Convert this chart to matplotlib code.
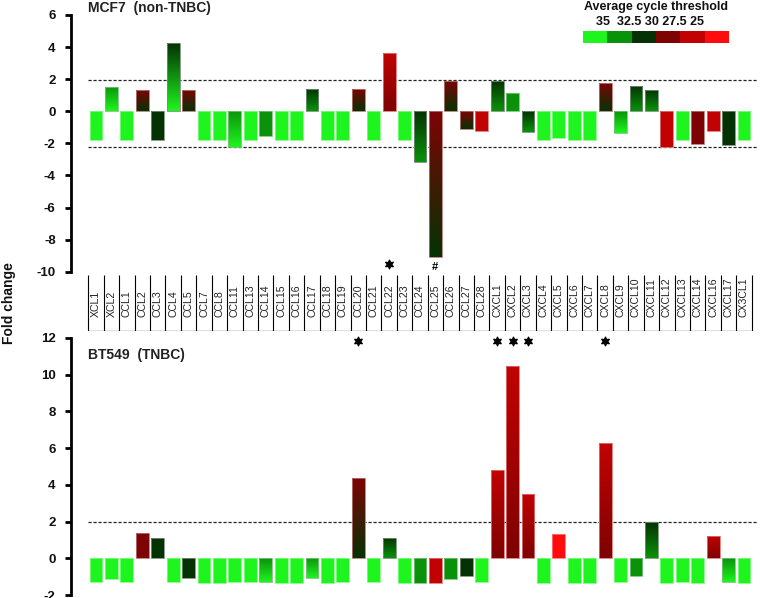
import numpy as np
import matplotlib
matplotlib.use("Agg")
import matplotlib.pyplot as plt
from matplotlib.colors import LinearSegmentedColormap, to_rgb

plt.rcParams["font.family"] = ["Liberation Sans", "DejaVu Sans"]

# ---------------- data ----------------
categories = ["XCL1", "XCL2", "CCL1", "CCL2", "CCL3", "CCL4", "CCL5", "CCL7", "CCL8",
              "CCL11", "CCL13", "CCL14", "CCL15", "CCL16", "CCL17", "CCL18", "CCL19",
              "CCL20", "CCL21", "CCL22", "CCL23", "CCL24", "CCL25", "CCL26", "CCL27",
              "CCL28", "CXCL1", "CXCL2", "CXCL3", "CXCL4", "CXCL5", "CXCL6", "CXCL7",
              "CXCL8", "CXCL9", "CXCL10", "CXCL11", "CXCL12", "CXCL13", "CXCL14",
              "CXCL16", "CXCL17", "CX3CL1"]

mcf7_fold = [-1.79, 1.52, -1.79, 1.31, -1.79, 4.23, 1.35, -1.79, -1.79,
             -2.25, -1.79, -1.52, -1.79, -1.79, 1.40, -1.79, -1.79,
             1.40, -1.79, 3.65, -1.79, -3.19, -9.10, 1.90, -1.08,
             -1.25, 1.90, 1.16, -1.30, -1.79, -1.66, -1.79, -1.79,
             1.77, -1.37, 1.60, 1.31, -2.23, -1.79, -2.04,
             -1.23, -2.13, -1.79]
# average Ct shown at the upper and lower end of each bar's colour gradient
mcf7_ct_upper = [35, 32.5, 35, 27.5, 30, 30, 27.5, 35, 35,
                 32.5, 35, 32.5, 35, 35, 30, 35, 35,
                 27.5, 35, 25, 35, 30, 27.5, 27.5, 27.5,
                 25, 30, 32.5, 30, 35, 35, 35, 35,
                 27.5, 32.5, 30, 30, 25, 35, 27.5,
                 25, 30, 35]
mcf7_ct_lower = [35, 35, 35, 30, 30, 35, 30, 35, 35,
                 35, 35, 32.5, 35, 35, 32.5, 35, 35,
                 30, 35, 27.5, 35, 32.5, 30, 30, 30,
                 25, 32.5, 32.5, 32.5, 35, 35, 35, 35,
                 30, 35, 32.5, 32.5, 25, 35, 27.5,
                 25, 30, 35]

bt549_fold = [-1.29, -1.11, -1.29, 1.38, 1.11, -1.29, -1.05, -1.35, -1.35,
              -1.29, -1.29, -1.29, -1.35, -1.35, -1.09, -1.35, -1.29,
              4.38, -1.29, 1.11, -1.35, -1.35, -1.35, -1.11, -0.98,
              -1.29, 4.82, 10.50, 3.49, -1.35, 1.33, -1.35, -1.35,
              6.29, -1.29, -0.98, 1.95, -1.35, -1.29, -1.35,
              1.24, -1.29, -1.35]
bt549_ct_upper = [35, 35, 35, 27.5, 30, 35, 30, 35, 35,
                  35, 35, 32.5, 35, 35, 32.5, 35, 35,
                  27.5, 35, 30, 35, 32.5, 25, 32.5, 30,
                  35, 25, 25, 25, 35, 22.5, 35, 35,
                  25, 35, 32.5, 30, 35, 35, 35,
                  25, 32.5, 35]
bt549_ct_lower = [35, 35, 35, 27.5, 30, 35, 30, 35, 35,
                  35, 35, 35, 35, 35, 35, 35, 35,
                  30, 35, 32.5, 35, 32.5, 25, 32.5, 30,
                  35, 27.5, 27.5, 27.5, 35, 22.5, 35, 35,
                  27.5, 35, 32.5, 32.5, 35, 35, 35,
                  27.5, 35, 35]

mcf7_star = ["CCL22"]
mcf7_hash = ["CCL25"]
bt549_star = ["CCL20", "CXCL1", "CXCL2", "CXCL3", "CXCL8"]

mcf7_thresholds = [1.95, -2.2]
bt549_thresholds = [1.95]

legend_ct = [35, 32.5, 30, 27.5, 25, 22.5]
legend_labels = "35  32.5 30 27.5 25"

# ---------------- styles ----------------
ct_colors = {35: "#1ef51e", 32.5: "#0a920a", 30: "#043204",
             27.5: "#7e0303", 25: "#c20202", 22.5: "#ff0c0c"}

W, H = 760, 598
fig = plt.figure(figsize=(W / 100, H / 100), dpi=100)

def fx(px):
    return px / W

def fy(py):
    return 1 - py / H

ax_left_px, ax_right_px = 71, 757
x_left = -0.5 - (88.3 - ax_left_px) / 15.428
x_right = 42.5 + (ax_right_px - 751.7) / 15.428
xlim = (x_left, x_right)

def lighten(c, f=0.45):
    r, g, b = to_rgb(c)
    return (r + (1 - r) * f, g + (1 - g) * f, b + (1 - b) * f)

def style_axis(ax, ylim, yticks):
    ax.set_xlim(*xlim)
    ax.set_ylim(*ylim)
    for s in ["top", "right", "bottom"]:
        ax.spines[s].set_visible(False)
    ax.spines["left"].set_linewidth(2.0)
    ax.spines["left"].set_bounds(ylim[0], ylim[1])
    ax.set_xticks([])
    ax.set_yticks(yticks)
    ax.set_yticklabels([str(t) for t in yticks], fontweight="bold", fontsize=9.5,
                       color="#111111")
    ax.tick_params(axis="y", direction="out", length=4, width=2, pad=7)
    ax.patch.set_alpha(0)

def draw_panel(ax, fold, ct_up, ct_lo):
    idx = np.arange(len(categories))
    bars = ax.bar(idx, fold, width=0.84, facecolor="none", linewidth=0.6, zorder=3)
    grad = np.linspace(0, 1, 128).reshape(-1, 1)
    for b, cu, cl in zip(bars, ct_up, ct_lo):
        x0, y0 = b.get_x(), b.get_y()
        w, h = b.get_width(), b.get_height()
        ylo, yhi = min(y0, y0 + h), max(y0, y0 + h)
        cmap = LinearSegmentedColormap.from_list("g", [ct_colors[cl], ct_colors[cu]])
        im = ax.imshow(grad, extent=(x0, x0 + w, ylo, yhi), origin="lower",
                       aspect="auto", cmap=cmap, interpolation="bilinear", zorder=2)
        im.set_clip_path(b)
        b.set_edgecolor(lighten(ct_colors[cu]))
    return bars

# ---------------- top panel ----------------
top_ax = fig.add_axes([fx(ax_left_px), fy(271.7), fx(ax_right_px - ax_left_px),
                       (271.7 - 15) / H])
draw_panel(top_ax, mcf7_fold, mcf7_ct_upper, mcf7_ct_lower)
for t in mcf7_thresholds:
    top_ax.plot([-0.5, x_right], [t, t], color="#222222", lw=0.9,
                dashes=(2.5, 1.5), zorder=1)
style_axis(top_ax, (-10, 6), [6, 4, 2, 0, -2, -4, -6, -8, -10])
for c in mcf7_star:
    top_ax.scatter([categories.index(c)], [-9.5], marker=(6, 1, 0), s=38,
                   color="black", zorder=4, clip_on=False)
for c in mcf7_hash:
    top_ax.text(categories.index(c), -9.7, "#", ha="center", va="center",
                fontsize=8, fontweight="bold", zorder=4)

# ---------------- label table ----------------
tab_ax = fig.add_axes([fx(ax_left_px), fy(331), fx(ax_right_px - ax_left_px), 56 / H])
tab_ax.set_xlim(*xlim)
tab_ax.set_ylim(0, 1)
tab_ax.axis("off")
n = len(categories)
tab_ax.vlines(np.arange(n + 1) - 0.5, 0, 1, color="black", lw=0.8)
tab_ax.hlines(0, -0.5, n - 0.5, color="black", lw=0.9)
for i, c in enumerate(categories):
    tab_ax.text(i, 0.25, c, rotation=90, ha="center", va="bottom", fontsize=7.6,
                color="#222222")

# ---------------- bottom panel ----------------
bot_ax = fig.add_axes([fx(ax_left_px), fy(595), fx(ax_right_px - ax_left_px),
                       (595 - 338) / H])
draw_panel(bot_ax, bt549_fold, bt549_ct_upper, bt549_ct_lower)
for t in bt549_thresholds:
    bot_ax.plot([-0.5, x_right], [t, t], color="#222222", lw=0.9,
                dashes=(2.5, 1.5), zorder=1)
style_axis(bot_ax, (-2, 12), [12, 10, 8, 6, 4, 2, 0, -2])
bot_ax.scatter([categories.index(c) for c in bt549_star], [11.85] * len(bt549_star),
               marker=(6, 1, 0), s=38, color="black", zorder=4, clip_on=False)

# ---------------- titles / labels ----------------
fig.text(fx(88), fy(8), "MCF7  (non-TNBC)", fontsize=10, fontweight="bold",
         color="#222222", ha="left", va="center")
fig.text(fx(88), fy(355), "BT549  (TNBC)", fontsize=10, fontweight="bold",
         color="#222222", ha="left", va="center")
fig.text(fx(9), fy(303), "Fold change", rotation=90, fontsize=10, fontweight="bold",
         ha="center", va="center", color="#111111")

# ---------------- Ct legend ----------------
leg_ax = fig.add_axes([fx(583), fy(43.3), fx(729 - 583), 12.6 / H])
leg_ax.bar(np.arange(len(legend_ct)), [1] * len(legend_ct), width=1.0,
           color=[ct_colors[c] for c in legend_ct], linewidth=0)
leg_ax.set_xlim(-0.5, len(legend_ct) - 0.5)
leg_ax.set_ylim(0, 1)
leg_ax.axis("off")
fig.text(fx(656), fy(7), "Average cycle threshold", fontsize=9, fontweight="bold",
         ha="center", va="center", color="#111111")
fig.text(fx(650), fy(22), legend_labels, fontsize=9, fontweight="bold",
         ha="center", va="center", color="#111111")

fig.savefig("out.png", dpi=100)
